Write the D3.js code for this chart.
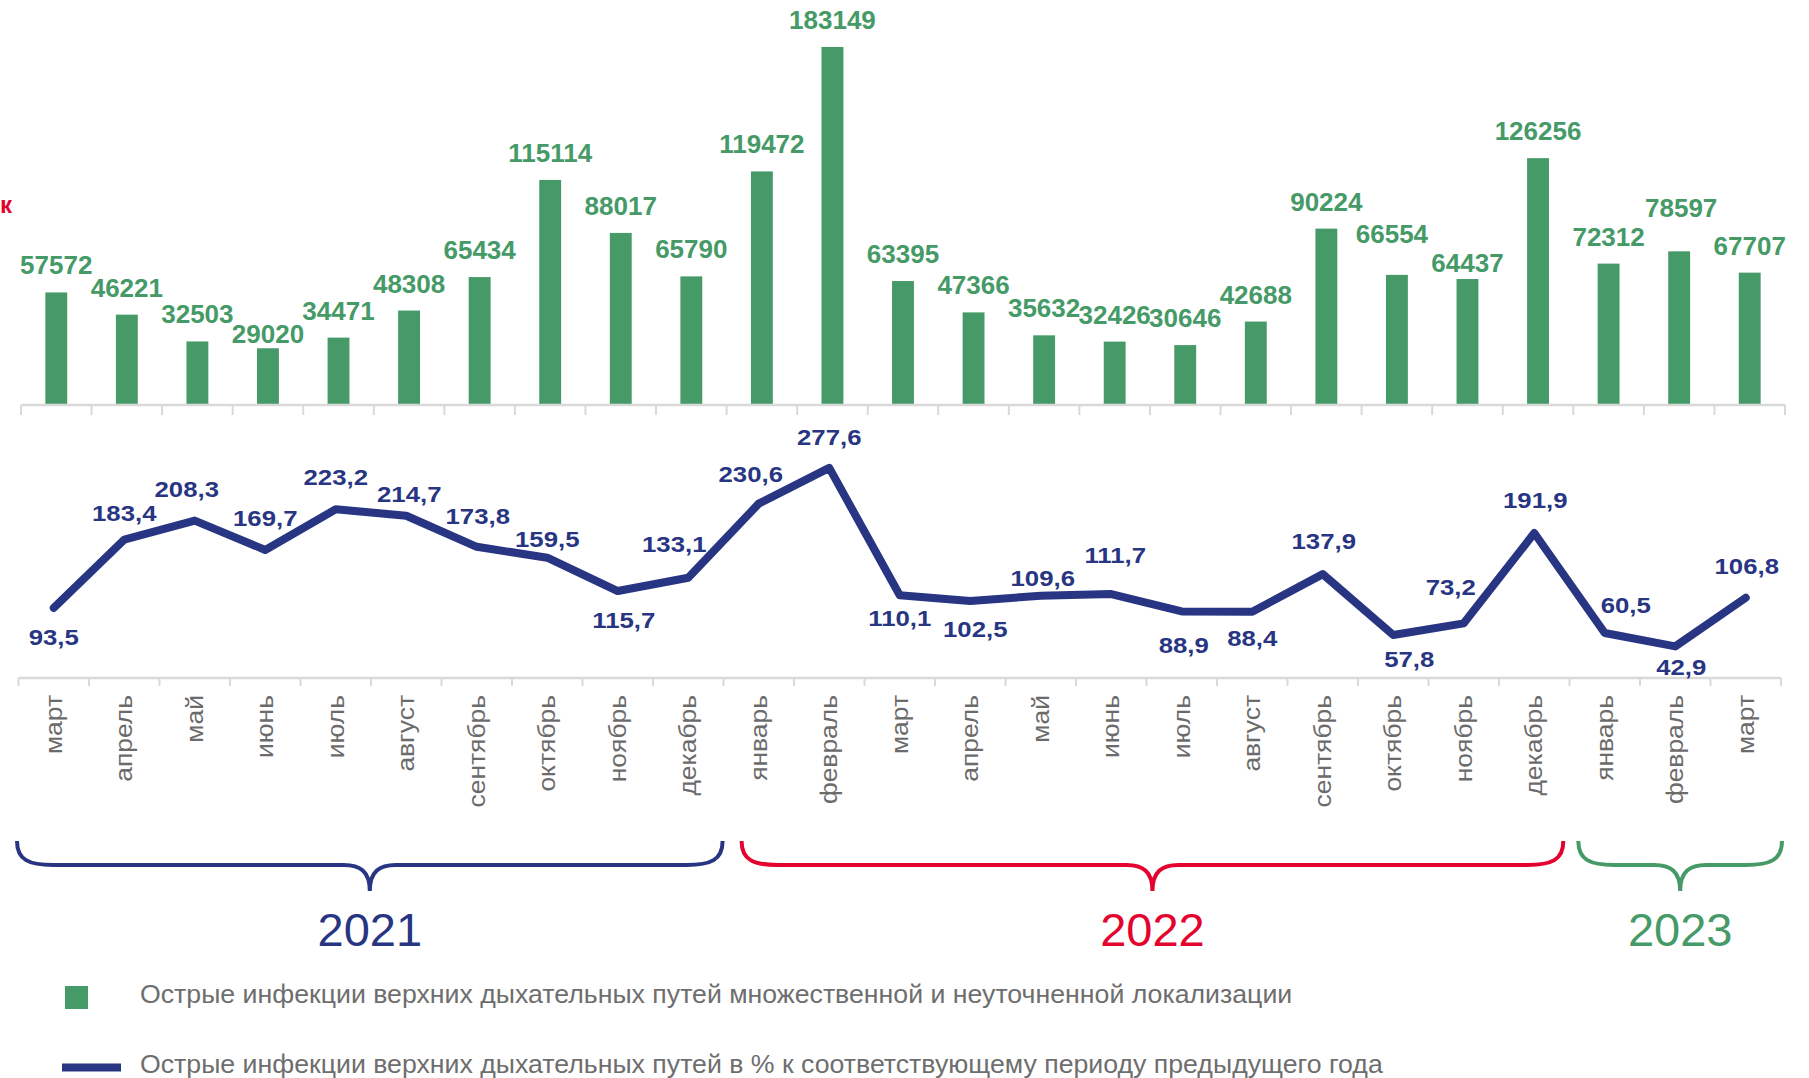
<!DOCTYPE html>
<html>
<head>
<meta charset="utf-8">
<script src="https://cdnjs.cloudflare.com/ajax/libs/d3/7.8.5/d3.min.js"></script>
<style>
  body { margin: 0; background: #fff; }
  text { font-family: "Liberation Sans", Arial, sans-serif; }
</style>
</head>
<body>
<div id="chart"></div>
<script>
var width = 1809;
var height = 1078;

// data
var months = ["март", "апрель", "май", "июнь", "июль", "август", "сентябрь", "октябрь", "ноябрь", "декабрь",
  "январь", "февраль", "март", "апрель", "май", "июнь", "июль", "август", "сентябрь", "октябрь", "ноябрь", "декабрь",
  "январь", "февраль", "март"];
var cases = [57572, 46221, 32503, 29020, 34471, 48308, 65434, 115114, 88017, 65790,
  119472, 183149, 63395, 47366, 35632, 32426, 30646, 42688, 90224, 66554, 64437, 126256,
  72312, 78597, 67707];
var percent = [93.5, 183.4, 208.3, 169.7, 223.2, 214.7, 173.8, 159.5, 115.7, 133.1,
  230.6, 277.6, 110.1, 102.5, 109.6, 111.7, 88.9, 88.4, 137.9, 57.8, 73.2, 191.9,
  60.5, 42.9, 106.8];
var years = ["2021", "2022", "2023"];
var yearFirst = [0, 10, 22];
var yearLast = [9, 21, 24];
var legendLabels = [
  "Острые инфекции верхних дыхательных путей множественной и неуточненной локализации",
  "Острые инфекции верхних дыхательных путей в % к соответствующему периоду предыдущего года"
];

// label placement tweaks (dx, gap above bar / dy from point)
var barLabelOffset = {3: [0, 5], 19: [-5, 32], 20: [0, 7], 23: [2, 34]};
var pctLabelOffset = [[0, 37], [0, -19], [-8, -24], [0, -24], [0, -24], [3, -14], [1, -23], [0, -11],
  [6, 37], [-14, -26], [-8, -22], [0, -23], [0, 31], [5, 36], [2, -10], [4, -31], [2, 42], [0, 34],
  [1, -25], [16, 32], [-13, -28], [1, -25], [21, -20], [6, 29], [1, -24]];
// brace ends relative to the year's band span
var braceInset = [[-4, -4], [15, -10], [5, -3]];

var green = "#459a67";
var navy = "#283582";
var red = "#e4032e";
var yearColors = [navy, red, green];
var axisGray = "#d9d9d9";

var svg = d3.select("#chart")
  .append("svg")
  .attr("width", width)
  .attr("height", height);

var idx = d3.range(months.length);

// upper: bars
var xTop = d3.scaleBand().domain(idx).range([21, 1785]);
var yBar = d3.scaleLinear().domain([0, 200000]).range([405, 14]);
var barW = xTop.bandwidth() * 0.31;

svg.selectAll("rect.bar")
  .data(cases)
  .enter()
  .append("rect")
  .attr("class", "bar")
  .attr("x", function(d, i){ return xTop(i) + xTop.bandwidth() / 2 - barW / 2; })
  .attr("y", function(d){ return yBar(d); })
  .attr("width", barW)
  .attr("height", function(d){ return yBar(0) - yBar(d); })
  .attr("fill", green);

svg.selectAll("text.barlab")
  .data(cases)
  .enter()
  .append("text")
  .attr("class", "barlab")
  .attr("x", function(d, i){
    var o = barLabelOffset[i] || [0, 18];
    return xTop(i) + xTop.bandwidth() / 2 + o[0];
  })
  .attr("y", function(d, i){
    var o = barLabelOffset[i] || [0, 18];
    return yBar(d) - o[1];
  })
  .attr("text-anchor", "middle")
  .attr("font-size", "26px")
  .attr("font-weight", "bold")
  .attr("fill", green)
  .text(function(d){ return d; });

function drawAxis(scale, y, tickLen){
  var g = svg.append("g");
  var r = scale.range();
  g.append("line")
    .attr("x1", r[0]).attr("x2", r[1])
    .attr("y1", y).attr("y2", y)
    .attr("stroke", axisGray).attr("stroke-width", 2.5);
  var bounds = d3.range(scale.domain().length + 1).map(function(i){ return r[0] + i * scale.step(); });
  g.selectAll("line.tick")
    .data(bounds)
    .enter()
    .append("line")
    .attr("class", "tick")
    .attr("x1", function(d){ return d; }).attr("x2", function(d){ return d; })
    .attr("y1", y).attr("y2", y + tickLen)
    .attr("stroke", axisGray).attr("stroke-width", 2);
}
drawAxis(xTop, 405, 10);

// lower: percent line
var xBot = d3.scaleBand().domain(idx).range([18.5, 1781]);
var yPct = d3.scaleLinear().domain([0, 300]).range([679, 450.85]);

drawAxis(xBot, 678, 8);

var line = d3.line()
  .x(function(d, i){ return xBot(i) + xBot.bandwidth() / 2; })
  .y(function(d){ return yPct(d); });

svg.append("path")
  .datum(percent)
  .attr("d", line)
  .attr("fill", "none")
  .attr("stroke", navy)
  .attr("stroke-width", 8)
  .attr("stroke-linejoin", "round")
  .attr("stroke-linecap", "round");

var fmt = function(v){ return d3.format(".1f")(v).replace(".", ","); };

svg.selectAll("text.pctlab")
  .data(percent)
  .enter()
  .append("text")
  .attr("class", "pctlab")
  .attr("transform", function(d, i){
    var px = xBot(i) + xBot.bandwidth() / 2 + pctLabelOffset[i][0];
    var py = yPct(d) + pctLabelOffset[i][1];
    return "translate(" + px + "," + py + ") scale(1.12,1)";
  })
  .attr("text-anchor", "middle")
  .attr("font-size", "23px")
  .attr("font-weight", "bold")
  .attr("fill", navy)
  .text(function(d){ return fmt(d); });

// month labels
svg.selectAll("text.month")
  .data(months)
  .enter()
  .append("text")
  .attr("class", "month")
  .attr("transform", function(d, i){
    return "translate(" + (xBot(i) + xBot.bandwidth() / 2) + ",695) rotate(-90) scale(1.15,1)";
  })
  .attr("text-anchor", "end")
  .attr("dy", "0.35em")
  .attr("font-size", "23px")
  .attr("fill", "#6b6b6b")
  .text(function(d){ return d; });

// year braces
function bracePath(x0, x1){
  var top = 841, mid = 865, tip = 891;
  var xm = (x0 + x1) / 2;
  return "M" + x0 + "," + top +
    " C" + x0 + "," + (mid - 5) + " " + (x0 + 12) + "," + mid + " " + (x0 + 36) + "," + mid +
    " L" + (xm - 26) + "," + mid +
    " C" + (xm - 10) + "," + mid + " " + xm + "," + (mid + 6) + " " + xm + "," + tip +
    " C" + xm + "," + (mid + 6) + " " + (xm + 10) + "," + mid + " " + (xm + 26) + "," + mid +
    " L" + (x1 - 36) + "," + mid +
    " C" + (x1 - 12) + "," + mid + " " + x1 + "," + (mid - 5) + " " + x1 + "," + top;
}

years.forEach(function(yr, k){
  var x0 = xTop(yearFirst[k]) + braceInset[k][0];
  var x1 = xTop(yearLast[k]) + xTop.step() + braceInset[k][1];
  svg.append("path")
    .attr("d", bracePath(x0, x1))
    .attr("fill", "none")
    .attr("stroke", yearColors[k])
    .attr("stroke-width", 4);
  svg.append("text")
    .attr("x", (x0 + x1) / 2)
    .attr("y", 946)
    .attr("text-anchor", "middle")
    .attr("font-size", "47px")
    .attr("fill", yearColors[k])
    .text(yr);
});

// cut-off red letter at left edge
svg.append("text")
  .attr("x", 0)
  .attr("y", 213)
  .attr("font-size", "24px")
  .attr("font-weight", "bold")
  .attr("fill", red)
  .text("к");

// legend
svg.append("rect")
  .attr("x", 65).attr("y", 986)
  .attr("width", 23).attr("height", 23)
  .attr("fill", green);
svg.append("line")
  .attr("x1", 62).attr("x2", 121)
  .attr("y1", 1067.5).attr("y2", 1067.5)
  .attr("stroke", navy).attr("stroke-width", 8);

svg.selectAll("text.legend")
  .data(legendLabels)
  .enter()
  .append("text")
  .attr("class", "legend")
  .attr("x", 140)
  .attr("y", function(d, i){ return i === 0 ? 1003 : 1073; })
  .attr("font-size", "26.7px")
  .attr("fill", "#6e6e6e")
  .text(function(d){ return d; });
</script>
</body>
</html>
